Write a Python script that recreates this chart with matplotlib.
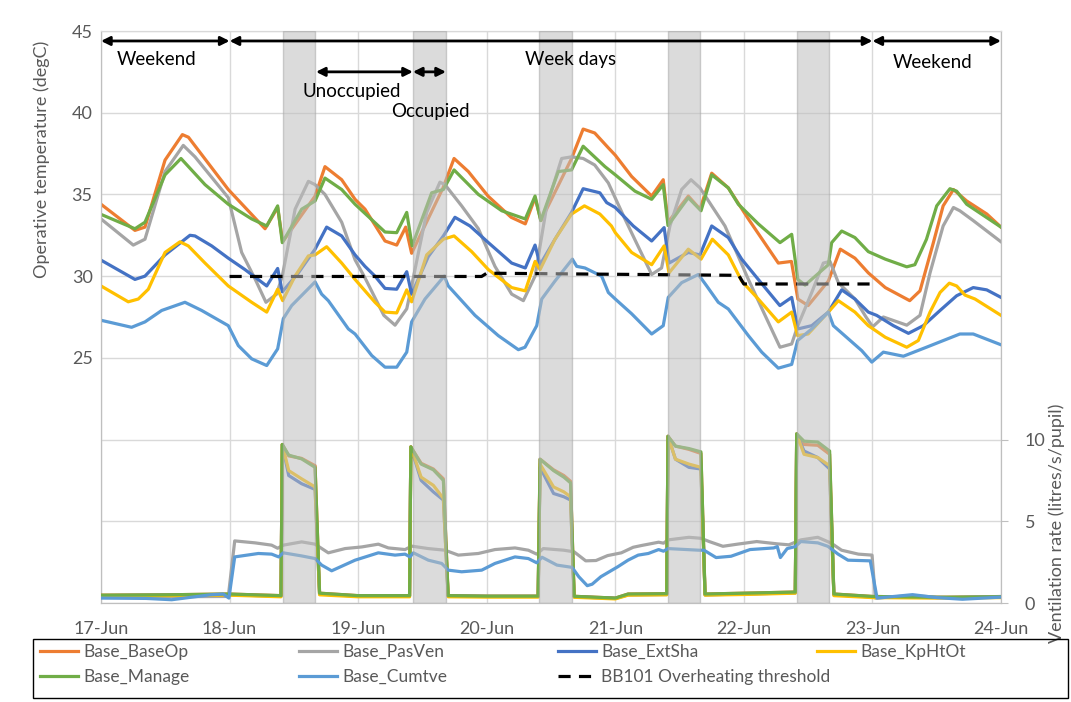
import matplotlib
matplotlib.use("Agg")
import matplotlib.pyplot as plt
from matplotlib.lines import Line2D
from matplotlib.patches import Rectangle

plt.rcParams['font.family'] = ['Lato', 'DejaVu Sans']

# --------------------------
# Data (x = days since 17-Jun 00:00)
# --------------------------
DAY_LABELS = ["17-Jun", "18-Jun", "19-Jun", "20-Jun", "21-Jun", "22-Jun", "23-Jun", "24-Jun"]
OCC_START = [1.415, 2.428, 3.41, 4.408, 5.41]
OCC_END = [1.668, 2.681, 3.662, 4.66, 5.663]

# operative temperature (degC)
baseop_t = [0.0, 0.264, 0.342, 0.498, 0.633, 0.68, 0.99, 1.276, 1.374, 1.413, 1.665, 1.742, 1.872, 1.976, 2.053,
            2.209, 2.3, 2.37, 2.416, 2.66, 2.746, 2.857, 3.01, 3.19, 3.3, 3.376, 3.422, 3.66, 3.75, 3.84, 3.946,
            4.0, 4.127, 4.283, 4.373, 4.41, 4.568, 4.659, 4.75, 4.879, 5.035, 5.268, 5.37, 5.42, 5.5, 5.657,
            5.75, 5.864, 5.968, 6.1, 6.29, 6.37, 6.474, 6.55, 6.63, 6.733, 6.89, 7.0]
baseop_v = [34.4, 32.8, 33.0, 37.1, 38.66, 38.5, 35.3, 32.9, 34.2, 32.1, 34.9, 36.7, 35.9, 34.7, 34.1,
            32.15, 31.9, 33.0, 31.4, 35.4, 37.2, 36.4, 34.9, 33.6, 33.2, 34.8, 33.4, 37.2, 39.0, 38.76, 37.85,
            37.4, 36.1, 34.9, 35.9, 33.3, 34.9, 34.1, 36.3, 35.4, 33.5, 30.8, 30.9, 28.6, 28.2, 29.7,
            31.65, 31.1, 30.2, 29.3, 28.5, 29.1, 32.05, 34.3, 35.3, 34.6, 33.8, 33.0]

pasven_t = [0.0, 0.251, 0.342, 0.498, 0.64, 0.731, 0.99, 1.094, 1.2, 1.283, 1.366, 1.41, 1.51, 1.613, 1.665,
            1.742, 1.872, 1.976, 2.053, 2.2, 2.287, 2.378, 2.416, 2.533, 2.636, 2.675, 2.805, 2.935, 3.064,
            3.194, 3.285, 3.376, 3.467, 3.583, 3.66, 3.75, 3.84, 3.946, 4.075, 4.283, 4.36, 4.425, 4.516,
            4.589, 4.659, 4.75, 4.853, 5.035, 5.165, 5.281, 5.372, 5.42, 5.528, 5.618, 5.67, 5.735, 5.864,
            5.95, 6.002, 6.085, 6.267, 6.37, 6.448, 6.55, 6.63, 6.68, 6.784, 7.0]
pasven_v = [33.5, 31.9, 32.26, 36.4, 38.0, 37.3, 34.8, 31.45, 29.8, 28.4, 28.9, 30.0, 34.1, 35.8, 35.6,
            35.0, 33.3, 31.0, 29.9, 27.6, 27.0, 28.0, 29.4, 33.9, 35.75, 35.6, 34.3, 32.9, 30.6,
            28.9, 28.5, 30.0, 34.3, 37.2, 37.3, 37.2, 36.8, 35.7, 33.5, 30.1, 30.5, 33.07, 35.3,
            35.9, 35.4, 34.3, 33.07, 29.8, 27.6, 25.65, 25.85, 26.97, 29.0, 30.8, 30.9, 29.6, 28.6,
            27.5, 26.9, 27.5, 27.0, 27.6, 30.2, 33.07, 34.2, 34.0, 33.4, 32.1]

extsha_t = [0.0, 0.264, 0.342, 0.498, 0.692, 0.731, 0.861, 0.99, 1.12, 1.289, 1.374, 1.41, 1.535, 1.665, 1.755,
            1.872, 1.976, 2.053, 2.131, 2.209, 2.3, 2.378, 2.416, 2.546, 2.663, 2.753, 2.87, 3.013, 3.194, 3.3,
            3.376, 3.415, 3.531, 3.66, 3.75, 3.88, 3.933, 4.0, 4.14, 4.283, 4.38, 4.418, 4.568, 4.659, 4.75,
            4.879, 4.983, 5.112, 5.28, 5.372, 5.42, 5.528, 5.657, 5.761, 5.864, 5.968, 6.033, 6.163, 6.28,
            6.396, 6.526, 6.655, 6.784, 6.889, 7.0]
extsha_v = [30.98, 29.8, 30.0, 31.3, 32.5, 32.46, 31.85, 31.1, 30.4, 29.4, 30.47, 29.04, 30.2, 31.65, 33.0,
            32.46, 31.3, 30.6, 30.0, 29.25, 29.2, 30.27, 28.9, 31.2, 32.46, 33.6, 33.07, 32.05, 30.8, 30.5,
            31.9, 30.7, 32.26, 33.9, 35.35, 35.1, 34.5, 34.2, 33.07, 32.15, 32.97, 30.8, 31.45, 31.3, 33.07,
            32.36, 31.04, 29.8, 28.2, 28.7, 26.77, 26.97, 27.8, 29.16, 28.6, 27.8, 27.6, 26.97, 26.5,
            26.97, 27.9, 28.8, 29.3, 29.16, 28.7]

kphtot_t = [0.0, 0.212, 0.29, 0.368, 0.498, 0.614, 0.679, 0.809, 0.99, 1.172, 1.289, 1.374, 1.413, 1.509, 1.613,
            1.665, 1.755, 1.872, 1.976, 2.131, 2.209, 2.3, 2.378, 2.416, 2.533, 2.663, 2.746, 2.883, 3.013,
            3.194, 3.3, 3.376, 3.415, 3.531, 3.66, 3.76, 3.88, 3.97, 4.0, 4.127, 4.283, 4.38, 4.418, 4.568,
            4.667, 4.755, 4.879, 4.983, 5.112, 5.268, 5.372, 5.418, 5.5, 5.657, 5.735, 5.864, 5.968, 6.1,
            6.267, 6.357, 6.448, 6.526, 6.598, 6.655, 6.72, 6.798, 7.0]
kphtot_v = [29.4, 28.43, 28.6, 29.2, 31.45, 32.1, 31.85, 30.8, 29.4, 28.4, 27.8, 29.2, 28.5, 30.0, 31.24,
            31.3, 31.8, 30.8, 29.8, 28.4, 27.8, 27.75, 29.16, 28.43, 31.3, 32.26, 32.46, 31.5, 30.4,
            29.3, 29.1, 30.9, 30.4, 32.26, 33.8, 34.3, 33.8, 33.07, 32.66, 31.45, 30.7, 31.85, 30.2, 31.65,
            31.04, 32.26, 31.3, 29.7, 28.6, 27.2, 27.8, 26.36, 26.46, 27.8, 28.5, 27.8, 26.97, 26.26,
            25.65, 26.06, 27.8, 29.0, 29.57, 29.4, 28.84, 28.6, 27.6]

manage_t = [0.0, 0.264, 0.342, 0.498, 0.622, 0.809, 0.99, 1.172, 1.289, 1.374, 1.41, 1.561, 1.665, 1.742, 1.872,
            1.976, 2.209, 2.3, 2.378, 2.42, 2.572, 2.663, 2.746, 2.935, 3.117, 3.3, 3.376, 3.42, 3.557, 3.66,
            3.75, 3.92, 4.0, 4.153, 4.283, 4.373, 4.41, 4.568, 4.667, 4.75, 4.879, 4.957, 5.112, 5.281, 5.372,
            5.42, 5.476, 5.657, 5.683, 5.761, 5.864, 5.968, 6.1, 6.267, 6.33, 6.42, 6.5, 6.603, 6.655, 6.733,
            7.0]
manage_v = [33.78, 32.9, 33.3, 36.2, 37.2, 35.6, 34.4, 33.5, 33.07, 34.3, 32.05, 34.1, 34.6, 36.0, 35.3,
            34.4, 32.7, 32.66, 33.9, 31.85, 35.1, 35.3, 36.5, 35.0, 34.0, 33.5, 34.9, 33.4, 36.4, 36.5,
            37.95, 36.7, 36.2, 35.2, 34.7, 35.6, 33.1, 34.8, 34.0, 36.2, 35.4, 34.4, 33.2, 32.05, 32.56,
            29.8, 29.45, 30.7, 32.05, 32.76, 32.36, 31.5, 31.04, 30.57, 30.7, 32.25, 34.3, 35.35, 35.2, 34.4,
            33.0]

cumtve_t = [0.0, 0.238, 0.342, 0.472, 0.653, 0.783, 0.99, 1.068, 1.172, 1.289, 1.374, 1.418, 1.483, 1.665,
            1.716, 1.768, 1.924, 1.976, 2.106, 2.209, 2.3, 2.378, 2.416, 2.52, 2.67, 2.701, 2.909, 3.09,
            3.246, 3.298, 3.389, 3.428, 3.531, 3.666, 3.7, 3.764, 3.894, 3.946, 4.0, 4.127, 4.283, 4.373,
            4.412, 4.516, 4.646, 4.711, 4.801, 4.879, 5.035, 5.139, 5.268, 5.372, 5.418, 5.528, 5.657,
            5.696, 5.813, 5.917, 5.995, 6.085, 6.241, 6.42, 6.68, 6.784, 7.0]
cumtve_v = [27.3, 26.87, 27.2, 27.9, 28.4, 27.9, 26.97, 25.75, 24.94, 24.53, 25.55, 27.4, 28.2, 29.65,
            28.9, 28.5, 26.77, 26.46, 25.14, 24.43, 24.43, 25.35, 27.2, 28.6, 30.0, 29.4, 27.6, 26.36,
            25.5, 25.65, 26.97, 28.6, 29.7, 31.04, 30.6, 30.5, 30.0, 29.0, 28.6, 27.7, 26.46, 26.97,
            28.7, 29.6, 30.1, 29.4, 28.4, 27.99, 26.36, 25.35, 24.37, 24.6, 26.06, 26.77, 27.8,
            26.97, 26.16, 25.44, 24.74, 25.35, 25.1, 25.65, 26.46, 26.46, 25.8]

bb101_t = [1.0, 2.96, 3.0, 4.96, 5.0, 5.98]
bb101_v = [29.98, 29.98, 30.18, 30.05, 29.52, 29.52]

# ventilation rate (litres/s/pupil)
mech_t = [0.0, 0.5, 0.99, 1.40, 1.41, 1.46, 1.56, 1.665, 1.70, 2.0, 2.40, 2.41, 2.49, 2.585, 2.663, 2.70,
          3.0, 3.40, 3.415, 3.52, 3.60, 3.652, 3.68, 4.0, 4.1, 4.40, 4.41, 4.468, 4.573, 4.666, 4.698,
          5.0, 5.40, 5.411, 5.468, 5.575, 5.667, 5.70, 6.0, 6.5, 7.0]
vent_baseop = [0.48, 0.5, 0.55, 0.45, 9.7, 9.0, 8.85, 8.4, 0.6, 0.45, 0.45, 9.55, 8.55, 8.2, 7.6, 0.45,
               0.42, 0.42, 8.8, 8.15, 7.8, 7.45, 0.41, 0.3, 0.55, 0.57, 10.2, 9.6, 9.4, 9.15, 0.55,
               0.6, 0.67, 10.3, 9.7, 9.65, 9.1, 0.55, 0.4, 0.35, 0.38]
vent_extsha = [0.45, 0.47, 0.5, 0.42, 9.7, 7.8, 7.3, 6.95, 0.55, 0.42, 0.42, 9.55, 7.5, 6.8, 6.3, 0.42,
               0.4, 0.4, 8.3, 6.7, 6.5, 6.3, 0.38, 0.28, 0.5, 0.52, 10.2, 8.8, 8.3, 8.2, 0.5,
               0.55, 0.62, 10.35, 9.3, 8.9, 8.2, 0.5, 0.37, 0.33, 0.35]
vent_kphtot = [0.42, 0.45, 0.48, 0.38, 9.7, 8.1, 7.6, 7.1, 0.5, 0.38, 0.38, 9.55, 7.7, 7.2, 6.4, 0.38,
               0.36, 0.36, 8.5, 7.1, 6.8, 6.5, 0.35, 0.25, 0.48, 0.5, 10.2, 8.8, 8.5, 8.3, 0.48,
               0.52, 0.6, 10.35, 9.1, 8.9, 8.4, 0.45, 0.33, 0.3, 0.33]
vent_manage = [0.48, 0.5, 0.55, 0.45, 9.7, 9.05, 8.82, 8.3, 0.6, 0.45, 0.45, 9.55, 8.5, 8.15, 7.5, 0.45,
               0.42, 0.42, 8.8, 8.1, 7.7, 7.35, 0.41, 0.3, 0.55, 0.57, 10.2, 9.6, 9.45, 9.25, 0.55,
               0.6, 0.67, 10.35, 9.9, 9.85, 9.3, 0.55, 0.4, 0.35, 0.38]

pasven_vent_t = [0.0, 0.5, 0.99, 1.04, 1.198, 1.327, 1.374, 1.418, 1.561, 1.665, 1.768, 1.898, 2.028, 2.157,
                 2.235, 2.365, 2.416, 2.546, 2.676, 2.779, 2.935, 3.064, 3.22, 3.324, 3.389, 3.44, 3.60,
                 3.68, 3.77, 3.85, 3.94, 4.047, 4.139, 4.205, 4.337, 4.375, 4.41, 4.573, 4.666, 4.731,
                 4.837, 4.95, 5.1, 5.259, 5.35, 5.443, 5.575, 5.68, 5.76, 5.891, 5.997, 6.023, 6.3, 6.6, 7.0]
pasven_vent_v = [0.4, 0.38, 0.4, 3.8, 3.68, 3.54, 3.35, 3.54, 3.74, 3.6, 3.07, 3.33, 3.43, 3.6,
                 3.37, 3.27, 3.48, 3.33, 3.23, 2.93, 3.03, 3.27, 3.37, 3.23, 2.99, 3.33, 3.23,
                 3.13, 2.58, 2.6, 2.9, 3.07, 3.41, 3.52, 3.72, 3.66, 3.86, 4.02, 3.96, 3.76,
                 3.47, 3.6, 3.76, 3.62, 3.56, 3.86, 4.02, 3.66, 3.23, 2.99, 2.93, 0.3, 0.45, 0.32, 0.4]

cumtve_vent_t = [0.0, 0.35, 0.55, 0.85, 0.95, 0.995, 1.04, 1.224, 1.327, 1.382, 1.418, 1.561, 1.665, 1.716,
                 1.794, 1.976, 2.157, 2.287, 2.365, 2.403, 2.43, 2.546, 2.65, 2.701, 2.805, 2.961, 3.064,
                 3.22, 3.324, 3.389, 3.43, 3.546, 3.664, 3.716, 3.782, 3.82, 3.888, 4.02, 4.099, 4.178,
                 4.257, 4.337, 4.375, 4.41, 4.652, 4.69, 4.784, 4.9, 5.048, 5.232, 5.26, 5.284, 5.337,
                 5.40, 5.443, 5.575, 5.653, 5.733, 5.81, 5.983, 6.036, 6.312, 6.5, 6.7, 7.0]
cumtve_vent_v = [0.3, 0.28, 0.2, 0.5, 0.55, 0.3, 2.82, 3.03, 2.99, 2.82, 3.07, 2.88, 2.72, 2.32,
                 1.97, 2.62, 3.07, 2.93, 2.99, 2.82, 3.07, 2.62, 2.42, 2.01, 1.91, 2.01, 2.42,
                 2.82, 2.72, 2.46, 2.8, 2.32, 2.18, 1.61, 1.06, 1.15, 1.61, 2.22, 2.62, 2.93,
                 3.03, 3.27, 3.17, 3.33, 3.23, 3.23, 2.78, 2.86, 3.27, 3.37, 3.45, 2.78, 3.33,
                 3.45, 3.76, 3.68, 3.47, 2.99, 2.62, 2.58, 0.3, 0.51, 0.33, 0.23, 0.36]

COLORS = {"Base_BaseOp": "#ED7D31", "Base_PasVen": "#A5A5A5", "Base_ExtSha": "#4472C4",
          "Base_KpHtOt": "#FFC000", "Base_Manage": "#70AD47", "Base_Cumtve": "#5B9BD5"}
TEXT_GREY = "#595959"
LW = 2.3
DASH = (0, (3.8, 2.6))

fig = plt.figure(figsize=(10.71, 7.02), dpi=100)
ax = fig.add_axes([101 / 1071, 1 - 603 / 702, 900 / 1071, 572 / 702])
ax2 = ax.twinx()

temp_series = [("Base_BaseOp", baseop_t, baseop_v), ("Base_PasVen", pasven_t, pasven_v),
               ("Base_ExtSha", extsha_t, extsha_v), ("Base_KpHtOt", kphtot_t, kphtot_v),
               ("Base_Manage", manage_t, manage_v), ("Base_Cumtve", cumtve_t, cumtve_v)]
for name, t, v in temp_series:
    ax.plot(t, v, color=COLORS[name], lw=LW, solid_joinstyle="round", zorder=3)
ax.plot(bb101_t, bb101_v, color="black", lw=LW, linestyle=DASH, zorder=3)

vent_series = [("Base_BaseOp", mech_t, vent_baseop), ("Base_PasVen", pasven_vent_t, pasven_vent_v),
               ("Base_ExtSha", mech_t, vent_extsha), ("Base_KpHtOt", mech_t, vent_kphtot),
               ("Base_Manage", mech_t, vent_manage), ("Base_Cumtve", cumtve_vent_t, cumtve_vent_v)]
for name, t, v in vent_series:
    ax2.plot(t, v, color=COLORS[name], lw=LW, solid_joinstyle="round", zorder=3)

# occupied periods shaded over the lines
for s, e in zip(OCC_START, OCC_END):
    ax2.axvspan(s, e, facecolor="#bfbfbf", alpha=0.55, edgecolor="#a8a8a8", lw=1, zorder=5)

# axes formatting
ax.set_xlim(0, 7)
ax.set_ylim(10, 45)
ax2.set_ylim(0, 35)
ax.set_xticks(range(8))
ax.set_xticklabels(DAY_LABELS, fontsize=13, color=TEXT_GREY)
ax.set_yticks(range(10, 50, 5))
ax.set_yticklabels([str(v) if v >= 25 else "" for v in range(10, 50, 5)], fontsize=13, color=TEXT_GREY)
ax.tick_params(axis="x", length=0, pad=13)
ax.tick_params(axis="y", length=0, pad=6)
ax2.set_yticks([0, 5, 10])
ax2.set_yticklabels(["0", "5", "10"], fontsize=13, color=TEXT_GREY)
ax2.tick_params(axis="y", length=5, color="#bfbfbf", pad=12)
ax.grid(True, color="#d9d9d9", lw=1)
ax.set_axisbelow(True)
for a in (ax, ax2):
    for sp in a.spines.values():
        sp.set_color("#bfbfbf")
    a.spines["top"].set_color("#d9d9d9")

ax.set_ylabel("Operative temperature (degC)", fontsize=13, color=TEXT_GREY)
ax.yaxis.set_label_coords(-0.057, 0.775)
ax2.set_ylabel("Ventilation rate (litres/s/pupil)", fontsize=13, color=TEXT_GREY)
ax2.yaxis.set_label_coords(1.053, 0.14)

# annotations drawn above the shaded bars
def double_arrow(x0, x1, y):
    ax2.annotate("", xy=(x1, y), xytext=(x0, y), xycoords=ax.transData, textcoords=ax.transData,
                 arrowprops=dict(arrowstyle="<|-|>", color="black", lw=2, mutation_scale=13,
                                 shrinkA=0, shrinkB=0), zorder=8, annotation_clip=False)

def label(x, y, s):
    ax2.text(x, y, s, transform=ax.transData, fontsize=13.5, ha="center", va="center", zorder=8)

double_arrow(0.0, 1.0, 44.39)
double_arrow(1.0, 6.0, 44.39)
double_arrow(6.0, 7.0, 44.39)
double_arrow(1.672, 2.426, 42.5)
double_arrow(2.426, 2.683, 42.5)
label(0.435, 43.23, "Weekend")
label(3.65, 43.23, "Week days")
label(6.47, 43.1, "Weekend")
label(1.95, 41.3, "Unoccupied")
label(2.56, 40.06, "Occupied")

# legend: boxed, four evenly spaced columns
fig.patches.append(Rectangle((33 / 1071, 1 - 698 / 702), 1035 / 1071, 59 / 702, transform=fig.transFigure,
                             fill=False, edgecolor="black", lw=1))
legend_cols = [["Base_BaseOp", "Base_Manage"], ["Base_PasVen", "Base_Cumtve"],
               ["Base_ExtSha", "BB101 Overheating threshold"], ["Base_KpHtOt"]]
for i, col in enumerate(legend_cols):
    handles = []
    for name in col:
        if name in COLORS:
            handles.append(Line2D([], [], color=COLORS[name], lw=LW))
        else:
            handles.append(Line2D([], [], color="black", lw=LW, linestyle=DASH))
    fig.legend(handles, col, loc="upper left", bbox_to_anchor=((40 + 259 * i) / 1071, 1 - 644 / 702),
               frameon=False, fontsize=12.5, handlelength=2.2, handletextpad=0.3, labelspacing=0.5,
               borderaxespad=0, borderpad=0, labelcolor=TEXT_GREY)

fig.savefig("out.png", dpi=100)
